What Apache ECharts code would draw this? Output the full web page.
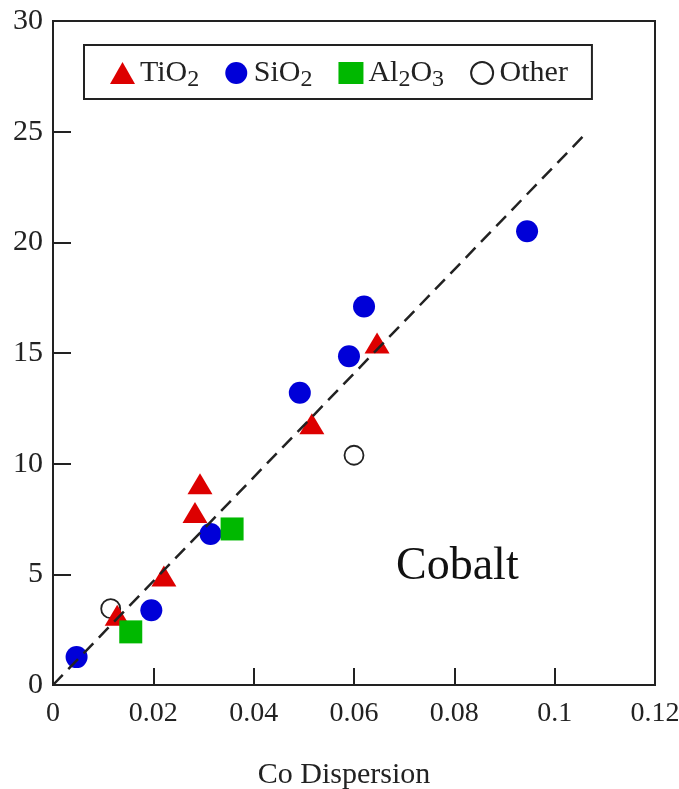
<!DOCTYPE html>
<html>
<head>
<meta charset="utf-8">
<script src="https://cdn.jsdelivr.net/npm/echarts@6/dist/echarts.min.js"></script>
<style>
  html, body { margin: 0; padding: 0; background: #fff; }
  #chart { width: 679px; height: 789px; }
</style>
</head>
<body>
<div id="chart"></div>
<script>
// values
const tio2X = [0.0128, 0.0221, 0.0283, 0.0293, 0.0516, 0.0646];
const tio2Y = [3.15, 4.92, 7.79, 9.09, 11.8, 15.45];
const sio2X = [0.0047, 0.0196, 0.0314, 0.0492, 0.059, 0.062, 0.0945];
const sio2Y = [1.26, 3.38, 6.82, 13.2, 14.85, 17.1, 20.5];
const al2o3X = [0.0155, 0.0357];
const al2o3Y = [2.4, 7.05];
const otherX = [0.0115, 0.06];
const otherY = [3.45, 10.38];
const fitX = [0, 0.1057];
const fitY = [0, 24.8];

const FONT = "'Liberation Serif', 'Times New Roman', serif";

function pairs(xs, ys) {
  return xs.map((x, i) => [x, ys[i]]);
}

const chart = echarts.init(document.getElementById('chart'));

const option = {
  backgroundColor: '#fff',
  animation: false,
  textStyle: { fontFamily: FONT, color: '#222' },
  grid: {
    left: 53, right: 24, top: 21, bottom: 104,
    outerBoundsMode: 'none',
    show: true, borderColor: '#222', borderWidth: 2
  },
  legend: {
    data: ['TiO2', 'SiO2', 'Al2O3', 'Other'],
    left: 84, top: 45,
    padding: [9, 24, 7, 26],
    borderColor: '#222', borderWidth: 2,
    itemWidth: 25, itemHeight: 22, itemGap: 26,
    formatter: function (name) {
      if (name === 'TiO2') return '{n|TiO}{s|2}';
      if (name === 'SiO2') return '{n|SiO}{s|2}';
      if (name === 'Al2O3') return '{n|Al}{s|2}{n|O}{s|3}';
      return '{n|' + name + '}';
    },
    textStyle: {
      fontFamily: FONT, color: '#222',
      rich: {
        n: { fontFamily: FONT, fontSize: 30, color: '#222', lineHeight: 36 },
        s: { fontFamily: FONT, fontSize: 24, color: '#222', lineHeight: 24, padding: [14, 0, 0, 0] }
      }
    }
  },
  xAxis: {
    type: 'value', min: 0, max: 0.12, interval: 0.02,
    name: 'Co Dispersion', nameLocation: 'middle', nameGap: 75,
    nameTextStyle: { fontFamily: FONT, fontSize: 30, color: '#222', padding: [0, 20, 0, 0] },
    axisLine: { lineStyle: { color: '#222', width: 2 } },
    axisTick: { inside: true, length: 17, lineStyle: { color: '#222', width: 2 } },
    axisLabel: { fontFamily: FONT, fontSize: 28, color: '#222', margin: 15 },
    splitLine: { show: false }
  },
  yAxis: {
    type: 'value', min: 0, max: 30, interval: 5,
    axisLine: { lineStyle: { color: '#222', width: 2 } },
    axisTick: { inside: true, length: 18, lineStyle: { color: '#222', width: 2 } },
    axisLabel: { fontFamily: FONT, fontSize: 30, color: '#222', margin: 10 },
    splitLine: { show: false }
  },
  graphic: [{
    type: 'text',
    left: 396, top: 544,
    style: { text: 'Cobalt', fontFamily: FONT, fontSize: 46, fill: '#111' }
  }],
  series: [
    {
      name: 'Other', type: 'scatter', symbol: 'circle', symbolSize: 19,
      itemStyle: { color: '#fff', borderColor: '#222', borderWidth: 1.8, opacity: 1 },
      data: pairs(otherX, otherY)
    },
    {
      name: 'TiO2', type: 'scatter', symbol: 'triangle', symbolSize: [25, 21],
      itemStyle: { color: '#dd0000', opacity: 1 },
      data: pairs(tio2X, tio2Y)
    },
    {
      name: 'SiO2', type: 'scatter', symbol: 'circle', symbolSize: 22,
      itemStyle: { color: '#0000d8', opacity: 1 },
      data: pairs(sio2X, sio2Y)
    },
    {
      name: 'Al2O3', type: 'scatter', symbol: 'rect', symbolSize: 23,
      itemStyle: { color: '#00b800', opacity: 1 },
      data: pairs(al2o3X, al2o3Y)
    },
    {
      name: 'fit', type: 'line', symbol: 'none', z: 5,
      lineStyle: { color: '#222', width: 2.5, type: [14, 8] },
      data: pairs(fitX, fitY)
    }
  ]
};

chart.setOption(option);
</script>
</body>
</html>
